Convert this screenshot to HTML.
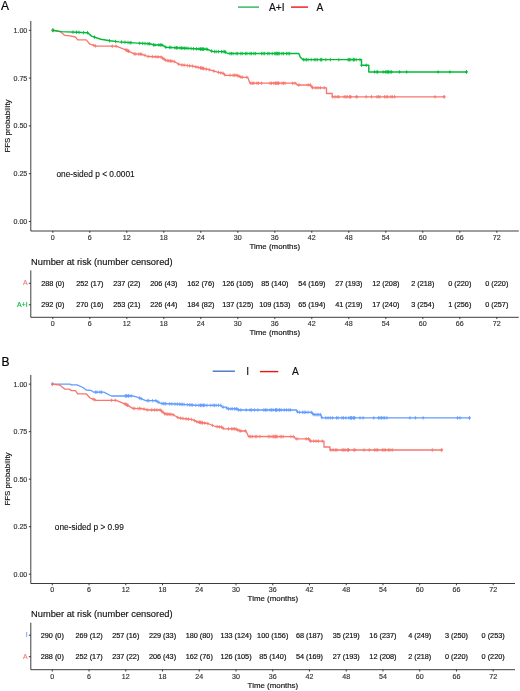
<!DOCTYPE html>
<html><head><meta charset="utf-8"><title>FFS probability</title>
<style>
html,body{margin:0;padding:0;background:#fff;}
svg{display:block;font-family:"Liberation Sans",Arial,Helvetica,sans-serif;}
.ax{stroke:#1a1a1a;stroke-width:0.85;fill:none}
.tl{font-size:7.1px;fill:#333;stroke:#333;stroke-width:0.15}
.at{font-size:7.9px;fill:#111;stroke:#111;stroke-width:0.15}
.rt{font-size:7.3px;fill:#111;stroke:#111;stroke-width:0.18}
.ti{font-size:9.3px;fill:#111;stroke:#111;stroke-width:0.15}
.lg{font-size:10.2px;fill:#111;stroke:#111;stroke-width:0.15}
.pn{font-size:12px;fill:#000;stroke:#000;stroke-width:0.2}
.pv{font-size:8.3px;fill:#111;stroke:#111;stroke-width:0.12}
.yl{font-size:6.9px;stroke-width:0.15}
</style></head><body>
<svg width="520" height="691" viewBox="0 0 520 691">
<rect width="520" height="691" fill="#fff"/>

<text class="pn" x="1" y="9.8">A</text>
<line x1="238" x2="259" y1="7.1" y2="7.1" stroke="#2DB35D" stroke-width="1.4"/>
<text class="lg" x="269" y="10.7">A+I</text>
<line x1="291" x2="308" y1="7.1" y2="7.1" stroke="#EC1414" stroke-width="1.4"/>
<text class="lg" x="316.5" y="10.7">A</text>
<path class="ax" d="M30.8,21.0V231.0H518.8"/>
<text class="tl" x="27.3" y="224.00" text-anchor="end">0.00</text>
<text class="tl" x="27.3" y="176.20" text-anchor="end">0.25</text>
<text class="tl" x="27.3" y="128.40" text-anchor="end">0.50</text>
<text class="tl" x="27.3" y="80.60" text-anchor="end">0.75</text>
<text class="tl" x="27.3" y="32.80" text-anchor="end">1.00</text>
<text class="tl" x="52.80" y="239.5" text-anchor="middle">0</text>
<text class="tl" x="89.80" y="239.5" text-anchor="middle">6</text>
<text class="tl" x="126.80" y="239.5" text-anchor="middle">12</text>
<text class="tl" x="163.80" y="239.5" text-anchor="middle">18</text>
<text class="tl" x="200.80" y="239.5" text-anchor="middle">24</text>
<text class="tl" x="237.80" y="239.5" text-anchor="middle">30</text>
<text class="tl" x="274.80" y="239.5" text-anchor="middle">36</text>
<text class="tl" x="311.80" y="239.5" text-anchor="middle">42</text>
<text class="tl" x="348.80" y="239.5" text-anchor="middle">48</text>
<text class="tl" x="385.80" y="239.5" text-anchor="middle">54</text>
<text class="tl" x="422.80" y="239.5" text-anchor="middle">60</text>
<text class="tl" x="459.80" y="239.5" text-anchor="middle">66</text>
<text class="tl" x="496.80" y="239.5" text-anchor="middle">72</text>
<path class="ax" d="M28.8,221.50h2M28.8,173.70h2M28.8,125.90h2M28.8,78.10h2M28.8,30.30h2M52.80,231.0v1.8M89.80,231.0v1.8M126.80,231.0v1.8M163.80,231.0v1.8M200.80,231.0v1.8M237.80,231.0v1.8M274.80,231.0v1.8M311.80,231.0v1.8M348.80,231.0v1.8M385.80,231.0v1.8M422.80,231.0v1.8M459.80,231.0v1.8M496.80,231.0v1.8"/>
<text class="at" x="274.8" y="248.6" text-anchor="middle">Time (months)</text>
<text class="at" transform="translate(9.9,126) rotate(-90)" text-anchor="middle">FFS probability</text>
<path d="M52.8,30.3 L60.8,31.9 L64.6,35.3 L70.0,35.8 L75.4,37.0 L77.7,39.9 L86.2,39.9 L90.0,44.2 L96.2,46.2 L116.2,46.2 L127.0,50.4 L134.2,53.8 L142.0,54.3 L148.0,56.5 L161.0,57.0 L165.8,60.3 L174.2,61.5 L179.6,64.6 L192.7,66.2 L197.3,67.2 L209.0,69.6 L218.5,72.4 L223.0,73.2 L225.4,75.3 L237.0,75.3 L241.5,77.3 L247.7,77.3 L250.0,83.2 L295.8,83.2 L297.3,85.0 L310.4,85.0 L312.7,87.8 L326.5,87.8 L326.5,93.5 L332.2,93.5 L332.2,96.8 L444.2,96.8" fill="none" stroke="#F8766D" stroke-width="1.3" stroke-linejoin="round"/>
<path d="M53.1,28.6v3.5M51.7,30.4h2.8M93.8,43.7v3.5M92.4,45.4h2.8M95.4,44.2v3.5M94.0,45.9h2.8M112.3,44.5v3.5M110.9,46.2h2.8M116.2,44.5v3.5M114.8,46.2h2.8M126.9,48.6v3.5M125.5,50.4h2.8M128.5,49.3v3.5M127.1,51.1h2.8M125.8,48.2v3.5M124.4,49.9h2.8M127.3,48.8v3.5M125.9,50.5h2.8M128.8,49.5v3.5M127.4,51.3h2.8M134.2,52.1v3.5M132.8,53.8h2.8M135.8,52.2v3.5M134.4,53.9h2.8M138.8,52.3v3.5M137.4,54.1h2.8M140.4,52.4v3.5M139.0,54.2h2.8M141.9,52.5v3.5M140.5,54.3h2.8M145.0,53.6v3.5M143.6,55.4h2.8M148.1,54.8v3.5M146.7,56.5h2.8M152.7,54.9v3.5M151.3,56.7h2.8M155.8,55.0v3.5M154.4,56.8h2.8M158.1,55.1v3.5M156.7,56.9h2.8M161.2,55.4v3.5M159.8,57.1h2.8M162.7,56.4v3.5M161.3,58.2h2.8M164.2,57.5v3.5M162.8,59.2h2.8M165.8,58.5v3.5M164.4,60.3h2.8M167.3,58.8v3.5M165.9,60.5h2.8M168.8,59.0v3.5M167.4,60.7h2.8M170.4,59.2v3.5M169.0,61.0h2.8M171.9,59.4v3.5M170.5,61.2h2.8M174.2,59.8v3.5M172.8,61.5h2.8M178.8,62.4v3.5M177.4,64.2h2.8M181.9,63.1v3.5M180.5,64.9h2.8M184.2,63.4v3.5M182.8,65.2h2.8M187.3,63.8v3.5M185.9,65.5h2.8M189.6,64.1v3.5M188.2,65.8h2.8M192.7,64.4v3.5M191.3,66.2h2.8M195.8,65.1v3.5M194.4,66.9h2.8M198.1,65.6v3.5M196.7,67.4h2.8M200.4,66.1v3.5M199.0,67.8h2.8M201.9,66.4v3.5M200.5,68.1h2.8M203.5,66.7v3.5M202.1,68.5h2.8M200.8,66.2v3.5M199.4,67.9h2.8M202.3,66.5v3.5M200.9,68.2h2.8M203.8,66.8v3.5M202.4,68.5h2.8M206.2,67.3v3.5M204.8,69.0h2.8M209.2,67.9v3.5M207.8,69.7h2.8M213.8,69.3v3.5M212.4,71.0h2.8M218.5,70.6v3.5M217.1,72.4h2.8M220.8,71.1v3.5M219.4,72.8h2.8M223.1,71.5v3.5M221.7,73.3h2.8M224.6,72.9v3.5M223.2,74.6h2.8M230.0,73.5v3.5M228.6,75.3h2.8M233.1,73.5v3.5M231.7,75.3h2.8M234.6,73.5v3.5M233.2,75.3h2.8M236.2,73.5v3.5M234.8,75.3h2.8M237.7,73.9v3.5M236.3,75.6h2.8M239.2,74.5v3.5M237.8,76.3h2.8M240.8,75.2v3.5M239.4,77.0h2.8M242.3,75.5v3.5M240.9,77.3h2.8M246.9,75.5v3.5M245.5,77.3h2.8M250.8,81.5v3.5M249.4,83.2h2.8M252.3,81.5v3.5M250.9,83.2h2.8M253.8,81.5v3.5M252.4,83.2h2.8M256.9,81.5v3.5M255.5,83.2h2.8M258.5,81.5v3.5M257.1,83.2h2.8M261.5,81.5v3.5M260.1,83.2h2.8M270.0,81.5v3.5M268.6,83.2h2.8M271.5,81.5v3.5M270.1,83.2h2.8M273.8,81.5v3.5M272.4,83.2h2.8M275.4,81.5v3.5M274.0,83.2h2.8M276.9,81.5v3.5M275.5,83.2h2.8M278.5,81.5v3.5M277.1,83.2h2.8M275.8,81.5v3.5M274.4,83.2h2.8M277.3,81.5v3.5M275.9,83.2h2.8M278.8,81.5v3.5M277.4,83.2h2.8M281.9,81.5v3.5M280.5,83.2h2.8M283.5,81.5v3.5M282.1,83.2h2.8M285.0,81.5v3.5M283.6,83.2h2.8M292.7,81.5v3.5M291.3,83.2h2.8M295.0,81.5v3.5M293.6,83.2h2.8M298.8,83.2v3.5M297.4,85.0h2.8M308.1,83.2v3.5M306.7,85.0h2.8M310.4,83.2v3.5M309.0,85.0h2.8M311.9,85.1v3.5M310.5,86.9h2.8M312.7,86.0v3.5M311.3,87.8h2.8M315.8,86.0v3.5M314.4,87.8h2.8M318.1,86.0v3.5M316.7,87.8h2.8M320.4,86.0v3.5M319.0,87.8h2.8M324.2,86.0v3.5M322.8,87.8h2.8M332.7,95.0v3.5M331.3,96.8h2.8M335.0,95.0v3.5M333.6,96.8h2.8M337.3,95.0v3.5M335.9,96.8h2.8M338.8,95.0v3.5M337.4,96.8h2.8M344.2,95.0v3.5M342.8,96.8h2.8M345.8,95.0v3.5M344.4,96.8h2.8M347.3,95.0v3.5M345.9,96.8h2.8M349.6,95.0v3.5M348.2,96.8h2.8M350.4,95.0v3.5M349.0,96.8h2.8M350.8,95.0v3.5M349.4,96.8h2.8M356.2,95.0v3.5M354.8,96.8h2.8M356.9,95.0v3.5M355.5,96.8h2.8M366.2,95.0v3.5M364.8,96.8h2.8M371.5,95.0v3.5M370.1,96.8h2.8M376.9,95.0v3.5M375.5,96.8h2.8M378.5,95.0v3.5M377.1,96.8h2.8M380.0,95.0v3.5M378.6,96.8h2.8M384.6,95.0v3.5M383.2,96.8h2.8M386.2,95.0v3.5M384.8,96.8h2.8M387.7,95.0v3.5M386.3,96.8h2.8M390.8,95.0v3.5M389.4,96.8h2.8M392.3,95.0v3.5M390.9,96.8h2.8M394.6,95.0v3.5M393.2,96.8h2.8M435.0,95.0v3.5M433.6,96.8h2.8M444.2,95.0v3.5M442.8,96.8h2.8M52.8,28.6v3.5M51.4,30.3h2.8M444.2,95.0v3.5M442.8,96.8h2.8" fill="none" stroke="#F8766D" stroke-width="0.8"/>
<path d="M52.8,30.3 L61.5,31.6 L87.7,32.7 L91.5,36.1 L100.8,39.2 L110.0,40.8 L119.0,41.9 L130.0,42.6 L137.3,43.1 L149.6,43.8 L154.2,45.0 L162.0,45.0 L165.8,47.2 L180.4,48.0 L200.0,49.0 L207.0,49.2 L213.0,51.6 L224.6,51.6 L227.7,53.5 L298.8,53.5 L300.4,57.3 L302.7,59.6 L361.5,59.6 L361.5,65.3 L368.8,65.3 L368.8,71.9 L466.5,71.9" fill="none" stroke="#00BA38" stroke-width="1.45" stroke-linejoin="round"/>
<path d="M53.0,28.6v3.5M51.6,30.3h2.8M73.0,30.3v3.5M71.6,32.1h2.8M76.5,30.5v3.5M75.1,32.2h2.8M79.0,30.6v3.5M77.6,32.3h2.8M83.5,30.8v3.5M82.1,32.5h2.8M87.5,30.9v3.5M86.1,32.7h2.8M94.5,35.4v3.5M93.1,37.1h2.8M109.5,39.0v3.5M108.1,40.7h2.8M115.5,39.7v3.5M114.1,41.5h2.8M121.5,40.3v3.5M120.1,42.1h2.8M125.0,40.5v3.5M123.6,42.3h2.8M128.0,40.7v3.5M126.6,42.5h2.8M130.0,40.9v3.5M128.6,42.6h2.8M131.0,40.9v3.5M129.6,42.7h2.8M139.6,41.5v3.5M138.2,43.2h2.8M142.7,41.7v3.5M141.3,43.4h2.8M145.0,41.8v3.5M143.6,43.5h2.8M148.0,42.0v3.5M146.6,43.7h2.8M149.6,42.0v3.5M148.2,43.8h2.8M153.5,43.1v3.5M152.1,44.8h2.8M155.0,43.2v3.5M153.6,45.0h2.8M158.8,43.2v3.5M157.4,45.0h2.8M160.4,43.2v3.5M159.0,45.0h2.8M162.0,43.2v3.5M160.6,45.0h2.8M165.8,45.5v3.5M164.4,47.2h2.8M169.6,45.7v3.5M168.2,47.4h2.8M171.0,45.7v3.5M169.6,47.5h2.8M175.0,46.0v3.5M173.6,47.7h2.8M176.5,46.0v3.5M175.1,47.8h2.8M177.3,46.1v3.5M175.9,47.8h2.8M180.0,46.2v3.5M178.6,48.0h2.8M181.5,46.3v3.5M180.1,48.1h2.8M183.0,46.4v3.5M181.6,48.1h2.8M184.6,46.5v3.5M183.2,48.2h2.8M186.0,46.5v3.5M184.6,48.3h2.8M188.0,46.6v3.5M186.6,48.4h2.8M191.0,46.8v3.5M189.6,48.5h2.8M193.5,46.9v3.5M192.1,48.7h2.8M196.5,47.1v3.5M195.1,48.8h2.8M199.0,47.2v3.5M197.6,48.9h2.8M200.5,47.3v3.5M199.1,49.0h2.8M202.0,47.3v3.5M200.6,49.1h2.8M203.5,47.4v3.5M202.1,49.1h2.8M200.8,47.3v3.5M199.4,49.0h2.8M202.3,47.3v3.5M200.9,49.1h2.8M203.8,47.4v3.5M202.4,49.1h2.8M206.2,47.4v3.5M204.8,49.2h2.8M207.7,47.7v3.5M206.3,49.5h2.8M211.5,49.3v3.5M210.1,51.0h2.8M214.6,49.9v3.5M213.2,51.6h2.8M216.2,49.9v3.5M214.8,51.6h2.8M218.5,49.9v3.5M217.1,51.6h2.8M221.5,49.9v3.5M220.1,51.6h2.8M223.1,49.9v3.5M221.7,51.6h2.8M224.6,49.9v3.5M223.2,51.6h2.8M225.4,50.3v3.5M224.0,52.1h2.8M230.0,51.8v3.5M228.6,53.5h2.8M231.5,51.8v3.5M230.1,53.5h2.8M233.1,51.8v3.5M231.7,53.5h2.8M236.2,51.8v3.5M234.8,53.5h2.8M237.7,51.8v3.5M236.3,53.5h2.8M240.8,51.8v3.5M239.4,53.5h2.8M242.3,51.8v3.5M240.9,53.5h2.8M245.4,51.8v3.5M244.0,53.5h2.8M246.9,51.8v3.5M245.5,53.5h2.8M250.0,51.8v3.5M248.6,53.5h2.8M251.5,51.8v3.5M250.1,53.5h2.8M253.8,51.8v3.5M252.4,53.5h2.8M255.4,51.8v3.5M254.0,53.5h2.8M261.5,51.8v3.5M260.1,53.5h2.8M263.1,51.8v3.5M261.7,53.5h2.8M264.6,51.8v3.5M263.2,53.5h2.8M267.7,51.8v3.5M266.3,53.5h2.8M269.2,51.8v3.5M267.8,53.5h2.8M272.3,51.8v3.5M270.9,53.5h2.8M274.6,51.8v3.5M273.2,53.5h2.8M276.2,51.8v3.5M274.8,53.5h2.8M277.7,51.8v3.5M276.3,53.5h2.8M279.2,51.8v3.5M277.8,53.5h2.8M275.8,51.8v3.5M274.4,53.5h2.8M277.3,51.8v3.5M275.9,53.5h2.8M278.8,51.8v3.5M277.4,53.5h2.8M281.9,51.8v3.5M280.5,53.5h2.8M283.5,51.8v3.5M282.1,53.5h2.8M286.5,51.8v3.5M285.1,53.5h2.8M288.1,51.8v3.5M286.7,53.5h2.8M289.6,51.8v3.5M288.2,53.5h2.8M303.5,57.9v3.5M302.1,59.6h2.8M305.0,57.9v3.5M303.6,59.6h2.8M306.5,57.9v3.5M305.1,59.6h2.8M308.1,57.9v3.5M306.7,59.6h2.8M311.2,57.9v3.5M309.8,59.6h2.8M314.2,57.9v3.5M312.8,59.6h2.8M315.8,57.9v3.5M314.4,59.6h2.8M317.3,57.9v3.5M315.9,59.6h2.8M320.4,57.9v3.5M319.0,59.6h2.8M321.2,57.9v3.5M319.8,59.6h2.8M321.9,57.9v3.5M320.5,59.6h2.8M325.8,57.9v3.5M324.4,59.6h2.8M330.4,57.9v3.5M329.0,59.6h2.8M338.8,57.9v3.5M337.4,59.6h2.8M348.1,57.9v3.5M346.7,59.6h2.8M348.8,57.9v3.5M347.4,59.6h2.8M349.6,57.9v3.5M348.2,59.6h2.8M353.5,57.9v3.5M352.1,59.6h2.8M350.8,57.9v3.5M349.4,59.6h2.8M353.1,57.9v3.5M351.7,59.6h2.8M354.6,57.9v3.5M353.2,59.6h2.8M356.2,57.9v3.5M354.8,59.6h2.8M360.0,57.9v3.5M358.6,59.6h2.8M361.5,63.5v3.5M360.1,65.3h2.8M366.2,63.5v3.5M364.8,65.3h2.8M374.6,70.2v3.5M373.2,71.9h2.8M376.9,70.2v3.5M375.5,71.9h2.8M377.7,70.2v3.5M376.3,71.9h2.8M383.1,70.2v3.5M381.7,71.9h2.8M385.4,70.2v3.5M384.0,71.9h2.8M386.9,70.2v3.5M385.5,71.9h2.8M387.7,70.2v3.5M386.3,71.9h2.8M388.5,70.2v3.5M387.1,71.9h2.8M390.0,70.2v3.5M388.6,71.9h2.8M391.5,70.2v3.5M390.1,71.9h2.8M399.5,70.2v3.5M398.1,71.9h2.8M406.6,70.2v3.5M405.2,71.9h2.8M438.1,70.2v3.5M436.7,71.9h2.8M449.9,70.2v3.5M448.5,71.9h2.8M466.5,70.2v3.5M465.1,71.9h2.8M52.8,28.6v3.5M51.4,30.3h2.8M466.5,70.2v3.5M465.1,71.9h2.8" fill="none" stroke="#00BA38" stroke-width="0.8"/>
<text class="pv" x="56.5" y="176.6">one-sided p &lt; 0.0001</text>
<text class="ti" x="31" y="264.5">Number at risk (number censored)</text>
<path class="ax" d="M30.8,270.4V317.3H518.8"/>
<text class="yl" x="27.6" y="285.2" text-anchor="end" fill="#F8766D" stroke="#F8766D">A</text>
<text class="rt" x="52.80" y="285.6" text-anchor="middle">288 (0)</text>
<text class="rt" x="89.80" y="285.6" text-anchor="middle">252 (17)</text>
<text class="rt" x="126.80" y="285.6" text-anchor="middle">237 (22)</text>
<text class="rt" x="163.80" y="285.6" text-anchor="middle">206 (43)</text>
<text class="rt" x="200.80" y="285.6" text-anchor="middle">162 (76)</text>
<text class="rt" x="237.80" y="285.6" text-anchor="middle">126 (105)</text>
<text class="rt" x="274.80" y="285.6" text-anchor="middle">85 (140)</text>
<text class="rt" x="311.80" y="285.6" text-anchor="middle">54 (169)</text>
<text class="rt" x="348.80" y="285.6" text-anchor="middle">27 (193)</text>
<text class="rt" x="385.80" y="285.6" text-anchor="middle">12 (208)</text>
<text class="rt" x="422.80" y="285.6" text-anchor="middle">2 (218)</text>
<text class="rt" x="459.80" y="285.6" text-anchor="middle">0 (220)</text>
<text class="rt" x="496.80" y="285.6" text-anchor="middle">0 (220)</text>
<text class="yl" x="27.6" y="306.7" text-anchor="end" fill="#00BA38" stroke="#00BA38">A+I</text>
<text class="rt" x="52.80" y="307.1" text-anchor="middle">292 (0)</text>
<text class="rt" x="89.80" y="307.1" text-anchor="middle">270 (16)</text>
<text class="rt" x="126.80" y="307.1" text-anchor="middle">253 (21)</text>
<text class="rt" x="163.80" y="307.1" text-anchor="middle">226 (44)</text>
<text class="rt" x="200.80" y="307.1" text-anchor="middle">184 (82)</text>
<text class="rt" x="237.80" y="307.1" text-anchor="middle">137 (125)</text>
<text class="rt" x="274.80" y="307.1" text-anchor="middle">109 (153)</text>
<text class="rt" x="311.80" y="307.1" text-anchor="middle">65 (194)</text>
<text class="rt" x="348.80" y="307.1" text-anchor="middle">41 (219)</text>
<text class="rt" x="385.80" y="307.1" text-anchor="middle">17 (240)</text>
<text class="rt" x="422.80" y="307.1" text-anchor="middle">3 (254)</text>
<text class="rt" x="459.80" y="307.1" text-anchor="middle">1 (256)</text>
<text class="rt" x="496.80" y="307.1" text-anchor="middle">0 (257)</text>
<text class="tl" x="52.80" y="326.4" text-anchor="middle">0</text>
<text class="tl" x="89.80" y="326.4" text-anchor="middle">6</text>
<text class="tl" x="126.80" y="326.4" text-anchor="middle">12</text>
<text class="tl" x="163.80" y="326.4" text-anchor="middle">18</text>
<text class="tl" x="200.80" y="326.4" text-anchor="middle">24</text>
<text class="tl" x="237.80" y="326.4" text-anchor="middle">30</text>
<text class="tl" x="274.80" y="326.4" text-anchor="middle">36</text>
<text class="tl" x="311.80" y="326.4" text-anchor="middle">42</text>
<text class="tl" x="348.80" y="326.4" text-anchor="middle">48</text>
<text class="tl" x="385.80" y="326.4" text-anchor="middle">54</text>
<text class="tl" x="422.80" y="326.4" text-anchor="middle">60</text>
<text class="tl" x="459.80" y="326.4" text-anchor="middle">66</text>
<text class="tl" x="496.80" y="326.4" text-anchor="middle">72</text>
<path class="ax" d="M28.8,283.3h2M28.8,304.8h2M52.80,317.3v1.8M89.80,317.3v1.8M126.80,317.3v1.8M163.80,317.3v1.8M200.80,317.3v1.8M237.80,317.3v1.8M274.80,317.3v1.8M311.80,317.3v1.8M348.80,317.3v1.8M385.80,317.3v1.8M422.80,317.3v1.8M459.80,317.3v1.8M496.80,317.3v1.8"/>
<text class="at" x="274.8" y="335.2" text-anchor="middle">Time (months)</text>
<text class="pn" x="1.4" y="365.6">B</text>
<line x1="212.7" x2="234.9" y1="371.2" y2="371.2" stroke="#4472C4" stroke-width="1.4"/>
<text class="lg" x="246.3" y="375.2">I</text>
<line x1="259.9" x2="278.3" y1="371.6" y2="371.6" stroke="#EC1414" stroke-width="1.4"/>
<text class="lg" x="292" y="375.2">A</text>
<path class="ax" d="M30.8,374.9V583.5H515"/>
<text class="tl" x="27.3" y="576.70" text-anchor="end">0.00</text>
<text class="tl" x="27.3" y="529.19" text-anchor="end">0.25</text>
<text class="tl" x="27.3" y="481.68" text-anchor="end">0.50</text>
<text class="tl" x="27.3" y="434.16" text-anchor="end">0.75</text>
<text class="tl" x="27.3" y="386.65" text-anchor="end">1.00</text>
<text class="tl" x="52.30" y="591.8" text-anchor="middle">0</text>
<text class="tl" x="89.04" y="591.8" text-anchor="middle">6</text>
<text class="tl" x="125.78" y="591.8" text-anchor="middle">12</text>
<text class="tl" x="162.52" y="591.8" text-anchor="middle">18</text>
<text class="tl" x="199.26" y="591.8" text-anchor="middle">24</text>
<text class="tl" x="236.00" y="591.8" text-anchor="middle">30</text>
<text class="tl" x="272.74" y="591.8" text-anchor="middle">36</text>
<text class="tl" x="309.48" y="591.8" text-anchor="middle">42</text>
<text class="tl" x="346.22" y="591.8" text-anchor="middle">48</text>
<text class="tl" x="382.96" y="591.8" text-anchor="middle">54</text>
<text class="tl" x="419.70" y="591.8" text-anchor="middle">60</text>
<text class="tl" x="456.44" y="591.8" text-anchor="middle">66</text>
<text class="tl" x="493.18" y="591.8" text-anchor="middle">72</text>
<path class="ax" d="M28.8,574.20h2M28.8,526.69h2M28.8,479.18h2M28.8,431.66h2M28.8,384.15h2M52.30,583.5v1.8M89.04,583.5v1.8M125.78,583.5v1.8M162.52,583.5v1.8M199.26,583.5v1.8M236.00,583.5v1.8M272.74,583.5v1.8M309.48,583.5v1.8M346.22,583.5v1.8M382.96,583.5v1.8M419.70,583.5v1.8M456.44,583.5v1.8M493.18,583.5v1.8"/>
<text class="at" x="272.9" y="600.6" text-anchor="middle">Time (months)</text>
<text class="at" transform="translate(9.9,479) rotate(-90)" text-anchor="middle">FFS probability</text>
<path d="M52.3,384.1 L70.0,384.2 L71.5,384.9 L77.0,384.9 L83.0,387.5 L86.2,390.0 L90.8,390.3 L93.8,392.2 L103.8,392.2 L111.5,396.0 L132.7,395.8 L138.0,397.3 L145.8,400.7 L155.8,400.7 L161.0,403.5 L178.8,404.2 L197.3,405.3 L220.8,405.4 L222.3,407.2 L226.0,407.2 L227.7,408.8 L237.0,408.8 L238.5,410.0 L296.5,410.0 L297.6,412.3 L312.0,412.3 L313.2,414.6 L320.8,414.6 L322.0,417.9 L469.5,417.9" fill="none" stroke="#619CFF" stroke-width="1.3" stroke-linejoin="round"/>
<path d="M95.4,390.4v3.5M94.0,392.2h2.8M96.9,390.4v3.5M95.5,392.2h2.8M100.0,390.4v3.5M98.6,392.2h2.8M101.5,390.4v3.5M100.1,392.2h2.8M125.4,394.1v3.5M124.0,395.9h2.8M126.9,394.1v3.5M125.5,395.9h2.8M128.5,394.1v3.5M127.1,395.8h2.8M126.5,394.1v3.5M125.1,395.9h2.8M128.8,394.1v3.5M127.4,395.8h2.8M131.2,394.1v3.5M129.8,395.8h2.8M139.6,396.3v3.5M138.2,398.0h2.8M141.2,396.9v3.5M139.8,398.7h2.8M147.3,398.9v3.5M145.9,400.7h2.8M148.8,398.9v3.5M147.4,400.7h2.8M152.7,398.9v3.5M151.3,400.7h2.8M155.8,398.9v3.5M154.4,400.7h2.8M157.3,399.8v3.5M155.9,401.5h2.8M158.8,400.6v3.5M157.4,402.3h2.8M161.9,401.8v3.5M160.5,403.5h2.8M163.5,401.8v3.5M162.1,403.6h2.8M165.0,401.9v3.5M163.6,403.7h2.8M165.8,401.9v3.5M164.4,403.7h2.8M169.6,402.1v3.5M168.2,403.8h2.8M171.9,402.2v3.5M170.5,403.9h2.8M175.0,402.3v3.5M173.6,404.1h2.8M177.3,402.4v3.5M175.9,404.1h2.8M179.6,402.5v3.5M178.2,404.2h2.8M181.2,402.6v3.5M179.8,404.3h2.8M182.7,402.7v3.5M181.3,404.4h2.8M184.2,402.8v3.5M182.8,404.5h2.8M187.3,403.0v3.5M185.9,404.7h2.8M189.6,403.1v3.5M188.2,404.8h2.8M191.2,403.2v3.5M189.8,404.9h2.8M192.7,403.3v3.5M191.3,405.0h2.8M195.8,403.5v3.5M194.4,405.2h2.8M198.8,403.6v3.5M197.4,405.3h2.8M200.4,403.6v3.5M199.0,405.3h2.8M201.9,403.6v3.5M200.5,405.3h2.8M203.5,403.6v3.5M202.1,405.3h2.8M200.8,403.6v3.5M199.4,405.3h2.8M203.1,403.6v3.5M201.7,405.3h2.8M204.6,403.6v3.5M203.2,405.3h2.8M206.9,403.6v3.5M205.5,405.3h2.8M210.8,403.6v3.5M209.4,405.4h2.8M213.1,403.6v3.5M211.7,405.4h2.8M214.6,403.6v3.5M213.2,405.4h2.8M216.2,403.6v3.5M214.8,405.4h2.8M218.5,403.6v3.5M217.1,405.4h2.8M220.8,403.6v3.5M219.4,405.4h2.8M223.1,405.4v3.5M221.7,407.2h2.8M226.9,406.3v3.5M225.5,408.1h2.8M228.5,407.1v3.5M227.1,408.8h2.8M230.8,407.1v3.5M229.4,408.8h2.8M232.3,407.1v3.5M230.9,408.8h2.8M234.6,407.1v3.5M233.2,408.8h2.8M236.2,407.1v3.5M234.8,408.8h2.8M236.9,407.1v3.5M235.5,408.8h2.8M238.5,408.2v3.5M237.1,410.0h2.8M240.8,408.2v3.5M239.4,410.0h2.8M246.2,408.2v3.5M244.8,410.0h2.8M250.0,408.2v3.5M248.6,410.0h2.8M251.5,408.2v3.5M250.1,410.0h2.8M254.6,408.2v3.5M253.2,410.0h2.8M257.7,408.2v3.5M256.3,410.0h2.8M263.8,408.2v3.5M262.4,410.0h2.8M265.4,408.2v3.5M264.0,410.0h2.8M266.9,408.2v3.5M265.5,410.0h2.8M270.0,408.2v3.5M268.6,410.0h2.8M271.5,408.2v3.5M270.1,410.0h2.8M273.1,408.2v3.5M271.7,410.0h2.8M275.4,408.2v3.5M274.0,410.0h2.8M276.9,408.2v3.5M275.5,410.0h2.8M279.2,408.2v3.5M277.8,410.0h2.8M275.8,408.2v3.5M274.4,410.0h2.8M276.5,408.2v3.5M275.1,410.0h2.8M279.6,408.2v3.5M278.2,410.0h2.8M281.2,408.2v3.5M279.8,410.0h2.8M284.2,408.2v3.5M282.8,410.0h2.8M286.5,408.2v3.5M285.1,410.0h2.8M288.8,408.2v3.5M287.4,410.0h2.8M290.4,408.2v3.5M289.0,410.0h2.8M297.3,409.9v3.5M295.9,411.7h2.8M299.6,410.6v3.5M298.2,412.3h2.8M302.7,410.6v3.5M301.3,412.3h2.8M304.2,410.6v3.5M302.8,412.3h2.8M305.8,410.6v3.5M304.4,412.3h2.8M308.1,410.6v3.5M306.7,412.3h2.8M311.2,410.6v3.5M309.8,412.3h2.8M312.7,411.9v3.5M311.3,413.6h2.8M314.2,412.9v3.5M312.8,414.6h2.8M315.8,412.9v3.5M314.4,414.6h2.8M317.3,412.9v3.5M315.9,414.6h2.8M318.8,412.9v3.5M317.4,414.6h2.8M320.4,412.9v3.5M319.0,414.6h2.8M321.9,415.9v3.5M320.5,417.7h2.8M325.8,416.1v3.5M324.4,417.9h2.8M328.1,416.1v3.5M326.7,417.9h2.8M330.4,416.1v3.5M329.0,417.9h2.8M332.7,416.1v3.5M331.3,417.9h2.8M336.5,416.1v3.5M335.1,417.9h2.8M338.1,416.1v3.5M336.7,417.9h2.8M341.9,416.1v3.5M340.5,417.9h2.8M343.5,416.1v3.5M342.1,417.9h2.8M345.8,416.1v3.5M344.4,417.9h2.8M348.8,416.1v3.5M347.4,417.9h2.8M350.4,416.1v3.5M349.0,417.9h2.8M351.9,416.1v3.5M350.5,417.9h2.8M353.5,416.1v3.5M352.1,417.9h2.8M354.2,416.1v3.5M352.8,417.9h2.8M350.8,416.1v3.5M349.4,417.9h2.8M351.5,416.1v3.5M350.1,417.9h2.8M354.6,416.1v3.5M353.2,417.9h2.8M360.0,416.1v3.5M358.6,417.9h2.8M363.1,416.1v3.5M361.7,417.9h2.8M373.8,416.1v3.5M372.4,417.9h2.8M378.5,416.1v3.5M377.1,417.9h2.8M380.0,416.1v3.5M378.6,417.9h2.8M381.5,416.1v3.5M380.1,417.9h2.8M383.1,416.1v3.5M381.7,417.9h2.8M384.6,416.1v3.5M383.2,417.9h2.8M386.9,416.1v3.5M385.5,417.9h2.8M410.0,416.1v3.5M408.6,417.9h2.8M415.4,416.1v3.5M414.0,417.9h2.8M423.1,416.1v3.5M421.7,417.9h2.8M457.5,416.1v3.5M456.1,417.9h2.8M460.0,416.1v3.5M458.6,417.9h2.8M469.5,416.1v3.5M468.1,417.9h2.8M52.3,382.4v3.5M50.9,384.1h2.8M469.5,416.1v3.5M468.1,417.9h2.8" fill="none" stroke="#619CFF" stroke-width="0.8"/>
<path d="M52.3,384.1 L60.0,385.2 L64.6,389.1 L69.2,389.1 L71.5,390.6 L75.4,390.6 L77.7,393.8 L86.2,393.8 L90.0,398.0 L96.2,400.3 L116.2,400.3 L127.0,404.9 L132.7,408.4 L142.0,408.6 L148.0,410.0 L160.4,410.0 L165.0,414.0 L172.7,414.5 L178.8,418.0 L192.7,419.6 L197.3,422.0 L207.7,423.5 L215.4,426.5 L221.5,427.0 L223.8,428.8 L235.4,428.8 L240.0,431.0 L246.0,431.0 L248.5,436.5 L294.2,436.6 L295.5,438.9 L309.2,438.9 L310.4,441.2 L324.0,441.2 L324.0,447.0 L330.0,447.0 L330.0,450.0 L441.8,450.0" fill="none" stroke="#F8766D" stroke-width="1.3" stroke-linejoin="round"/>
<path d="M52.6,382.4v3.5M51.2,384.2h2.8M93.1,397.4v3.5M91.7,399.2h2.8M94.7,398.0v3.5M93.3,399.7h2.8M111.5,398.6v3.5M110.1,400.3h2.8M115.3,398.6v3.5M113.9,400.3h2.8M126.0,402.7v3.5M124.6,404.5h2.8M127.6,403.5v3.5M126.2,405.2h2.8M124.9,402.2v3.5M123.5,404.0h2.8M126.4,402.9v3.5M125.0,404.6h2.8M127.9,403.7v3.5M126.5,405.5h2.8M133.3,406.7v3.5M131.9,408.4h2.8M134.8,406.7v3.5M133.4,408.4h2.8M137.9,406.8v3.5M136.5,408.5h2.8M139.4,406.8v3.5M138.0,408.5h2.8M140.9,406.8v3.5M139.5,408.6h2.8M144.0,407.3v3.5M142.6,409.1h2.8M147.1,408.0v3.5M145.7,409.8h2.8M151.7,408.2v3.5M150.3,410.0h2.8M154.7,408.2v3.5M153.3,410.0h2.8M157.0,408.2v3.5M155.6,410.0h2.8M160.1,408.2v3.5M158.7,410.0h2.8M161.6,409.3v3.5M160.2,411.0h2.8M163.1,410.6v3.5M161.7,412.4h2.8M164.7,412.0v3.5M163.3,413.7h2.8M166.2,412.3v3.5M164.8,414.1h2.8M167.7,412.4v3.5M166.3,414.2h2.8M169.2,412.5v3.5M167.8,414.3h2.8M170.8,412.6v3.5M169.4,414.4h2.8M173.1,413.0v3.5M171.7,414.7h2.8M177.7,415.6v3.5M176.3,417.3h2.8M180.7,416.5v3.5M179.3,418.2h2.8M183.0,416.7v3.5M181.6,418.5h2.8M186.1,417.1v3.5M184.7,418.8h2.8M188.4,417.4v3.5M187.0,419.1h2.8M191.4,417.7v3.5M190.0,419.5h2.8M194.5,418.8v3.5M193.1,420.5h2.8M196.8,420.0v3.5M195.4,421.7h2.8M199.1,420.5v3.5M197.7,422.3h2.8M200.6,420.7v3.5M199.2,422.5h2.8M202.1,420.9v3.5M200.7,422.7h2.8M199.5,420.6v3.5M198.1,422.3h2.8M201.0,420.8v3.5M199.6,422.5h2.8M202.5,421.0v3.5M201.1,422.8h2.8M204.8,421.3v3.5M203.4,423.1h2.8M207.9,421.8v3.5M206.5,423.6h2.8M212.5,423.6v3.5M211.1,425.4h2.8M217.1,424.9v3.5M215.7,426.6h2.8M219.4,425.1v3.5M218.0,426.8h2.8M221.7,425.4v3.5M220.3,427.1h2.8M223.2,426.6v3.5M221.8,428.3h2.8M228.5,427.1v3.5M227.1,428.8h2.8M231.6,427.1v3.5M230.2,428.8h2.8M233.1,427.1v3.5M231.7,428.8h2.8M234.7,427.1v3.5M233.3,428.8h2.8M236.2,427.4v3.5M234.8,429.2h2.8M237.7,428.2v3.5M236.3,429.9h2.8M239.3,428.9v3.5M237.9,430.6h2.8M240.8,429.2v3.5M239.4,431.0h2.8M245.4,429.2v3.5M244.0,431.0h2.8M249.2,434.8v3.5M247.8,436.5h2.8M250.7,434.8v3.5M249.3,436.5h2.8M252.3,434.8v3.5M250.9,436.5h2.8M255.3,434.8v3.5M253.9,436.5h2.8M256.8,434.8v3.5M255.4,436.5h2.8M259.9,434.8v3.5M258.5,436.5h2.8M268.3,434.8v3.5M266.9,436.5h2.8M269.9,434.8v3.5M268.5,436.5h2.8M272.1,434.8v3.5M270.7,436.6h2.8M273.7,434.8v3.5M272.3,436.6h2.8M275.2,434.8v3.5M273.8,436.6h2.8M276.7,434.8v3.5M275.3,436.6h2.8M274.1,434.8v3.5M272.7,436.6h2.8M275.6,434.8v3.5M274.2,436.6h2.8M277.1,434.8v3.5M275.7,436.6h2.8M280.2,434.8v3.5M278.8,436.6h2.8M281.7,434.8v3.5M280.3,436.6h2.8M283.2,434.8v3.5M281.8,436.6h2.8M290.9,434.8v3.5M289.5,436.6h2.8M293.2,434.8v3.5M291.8,436.6h2.8M297.0,437.1v3.5M295.6,438.9h2.8M306.2,437.1v3.5M304.8,438.9h2.8M308.5,437.1v3.5M307.1,438.9h2.8M310.0,438.7v3.5M308.6,440.5h2.8M310.8,439.4v3.5M309.4,441.2h2.8M313.8,439.4v3.5M312.4,441.2h2.8M316.1,439.4v3.5M314.7,441.2h2.8M318.4,439.4v3.5M317.0,441.2h2.8M322.3,439.4v3.5M320.9,441.2h2.8M330.7,448.2v3.5M329.3,450.0h2.8M333.0,448.2v3.5M331.6,450.0h2.8M335.3,448.2v3.5M333.9,450.0h2.8M336.8,448.2v3.5M335.4,450.0h2.8M342.2,448.2v3.5M340.8,450.0h2.8M343.7,448.2v3.5M342.3,450.0h2.8M345.2,448.2v3.5M343.8,450.0h2.8M347.5,448.2v3.5M346.1,450.0h2.8M348.3,448.2v3.5M346.9,450.0h2.8M348.7,448.2v3.5M347.3,450.0h2.8M354.0,448.2v3.5M352.6,450.0h2.8M354.8,448.2v3.5M353.4,450.0h2.8M364.0,448.2v3.5M362.6,450.0h2.8M369.3,448.2v3.5M367.9,450.0h2.8M374.7,448.2v3.5M373.3,450.0h2.8M376.2,448.2v3.5M374.8,450.0h2.8M377.7,448.2v3.5M376.3,450.0h2.8M382.3,448.2v3.5M380.9,450.0h2.8M383.9,448.2v3.5M382.5,450.0h2.8M385.4,448.2v3.5M384.0,450.0h2.8M388.4,448.2v3.5M387.0,450.0h2.8M390.0,448.2v3.5M388.6,450.0h2.8M392.3,448.2v3.5M390.9,450.0h2.8M432.4,448.2v3.5M431.0,450.0h2.8M441.6,448.2v3.5M440.2,450.0h2.8M52.3,382.4v3.5M50.9,384.1h2.8M441.8,448.2v3.5M440.4,450.0h2.8" fill="none" stroke="#F8766D" stroke-width="0.8"/>
<text class="pv" x="54.8" y="529.6">one-sided p &gt; 0.99</text>
<text class="ti" x="31" y="617.2">Number at risk (number censored)</text>
<path class="ax" d="M30.8,622.7V669.7H515"/>
<text class="yl" x="27.6" y="637.1" text-anchor="end" fill="#619CFF" stroke="#619CFF">I</text>
<text class="rt" x="52.30" y="637.5" text-anchor="middle">290 (0)</text>
<text class="rt" x="89.04" y="637.5" text-anchor="middle">269 (12)</text>
<text class="rt" x="125.78" y="637.5" text-anchor="middle">257 (16)</text>
<text class="rt" x="162.52" y="637.5" text-anchor="middle">229 (33)</text>
<text class="rt" x="199.26" y="637.5" text-anchor="middle">180 (80)</text>
<text class="rt" x="236.00" y="637.5" text-anchor="middle">133 (124)</text>
<text class="rt" x="272.74" y="637.5" text-anchor="middle">100 (156)</text>
<text class="rt" x="309.48" y="637.5" text-anchor="middle">68 (187)</text>
<text class="rt" x="346.22" y="637.5" text-anchor="middle">35 (219)</text>
<text class="rt" x="382.96" y="637.5" text-anchor="middle">16 (237)</text>
<text class="rt" x="419.70" y="637.5" text-anchor="middle">4 (249)</text>
<text class="rt" x="456.44" y="637.5" text-anchor="middle">3 (250)</text>
<text class="rt" x="493.18" y="637.5" text-anchor="middle">0 (253)</text>
<text class="yl" x="27.6" y="658.6" text-anchor="end" fill="#F8766D" stroke="#F8766D">A</text>
<text class="rt" x="52.30" y="659.0" text-anchor="middle">288 (0)</text>
<text class="rt" x="89.04" y="659.0" text-anchor="middle">252 (17)</text>
<text class="rt" x="125.78" y="659.0" text-anchor="middle">237 (22)</text>
<text class="rt" x="162.52" y="659.0" text-anchor="middle">206 (43)</text>
<text class="rt" x="199.26" y="659.0" text-anchor="middle">162 (76)</text>
<text class="rt" x="236.00" y="659.0" text-anchor="middle">126 (105)</text>
<text class="rt" x="272.74" y="659.0" text-anchor="middle">85 (140)</text>
<text class="rt" x="309.48" y="659.0" text-anchor="middle">54 (169)</text>
<text class="rt" x="346.22" y="659.0" text-anchor="middle">27 (193)</text>
<text class="rt" x="382.96" y="659.0" text-anchor="middle">12 (208)</text>
<text class="rt" x="419.70" y="659.0" text-anchor="middle">2 (218)</text>
<text class="rt" x="456.44" y="659.0" text-anchor="middle">0 (220)</text>
<text class="rt" x="493.18" y="659.0" text-anchor="middle">0 (220)</text>
<text class="tl" x="52.30" y="678.7" text-anchor="middle">0</text>
<text class="tl" x="89.04" y="678.7" text-anchor="middle">6</text>
<text class="tl" x="125.78" y="678.7" text-anchor="middle">12</text>
<text class="tl" x="162.52" y="678.7" text-anchor="middle">18</text>
<text class="tl" x="199.26" y="678.7" text-anchor="middle">24</text>
<text class="tl" x="236.00" y="678.7" text-anchor="middle">30</text>
<text class="tl" x="272.74" y="678.7" text-anchor="middle">36</text>
<text class="tl" x="309.48" y="678.7" text-anchor="middle">42</text>
<text class="tl" x="346.22" y="678.7" text-anchor="middle">48</text>
<text class="tl" x="382.96" y="678.7" text-anchor="middle">54</text>
<text class="tl" x="419.70" y="678.7" text-anchor="middle">60</text>
<text class="tl" x="456.44" y="678.7" text-anchor="middle">66</text>
<text class="tl" x="493.18" y="678.7" text-anchor="middle">72</text>
<path class="ax" d="M28.8,635.2h2M28.8,656.7h2M52.30,669.7v1.8M89.04,669.7v1.8M125.78,669.7v1.8M162.52,669.7v1.8M199.26,669.7v1.8M236.00,669.7v1.8M272.74,669.7v1.8M309.48,669.7v1.8M346.22,669.7v1.8M382.96,669.7v1.8M419.70,669.7v1.8M456.44,669.7v1.8M493.18,669.7v1.8"/>
<text class="at" x="272.9" y="687.6" text-anchor="middle">Time (months)</text>
</svg></body></html>
